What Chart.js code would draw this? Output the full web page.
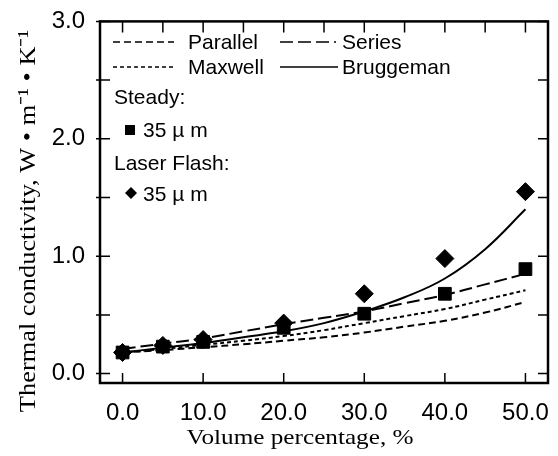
<!DOCTYPE html>
<html>
<head>
<meta charset="utf-8">
<script src="https://cdn.jsdelivr.net/npm/chart.js@4/dist/chart.umd.min.js"></script>
<style>
  html, body { margin: 0; padding: 0; background: #fff; }
  #wrap { width: 558px; height: 456px; }
</style>
</head>
<body>
<div id="wrap"><canvas id="c" width="558" height="456"></canvas></div>
<script>
// volume percentage for the model curves
const curveX = [0, 5, 10, 15, 20, 25, 30, 35, 40, 45, 50];
const seriesY = [0.21, 0.255, 0.30, 0.36, 0.42, 0.475, 0.53, 0.60, 0.67, 0.76, 0.85];
const maxwellY = [0.18, 0.21, 0.245, 0.28, 0.32, 0.37, 0.43, 0.49, 0.55, 0.63, 0.71];
const parallelY = [0.18, 0.20, 0.225, 0.25, 0.28, 0.31, 0.35, 0.40, 0.45, 0.52, 0.61];
const bruggemanY = [0.18, 0.22, 0.26, 0.31, 0.36, 0.43, 0.53, 0.65, 0.81, 1.06, 1.40];

// measured points
const measX = [0, 5, 10, 20, 30, 40, 50];
const steadyY = [0.18, 0.23, 0.27, 0.39, 0.51, 0.68, 0.89];
const flashY = [0.18, 0.24, 0.29, 0.43, 0.68, 0.98, 1.55];

const xTicks = [0, 10, 20, 30, 40, 50];
const yTicks = [0, 1, 2, 3];

function pts(xs, ys) {
  return xs.map((x, i) => ({x: x, y: ys[i]}));
}

const lineBase = {
  showLine: true,
  pointRadius: 0,
  borderColor: '#000',
  borderWidth: 2,
  fill: false,
  tension: 0.4
};

// box, inward ticks, axis titles and the in-plot legend
const decor = {
  id: 'decor',
  afterDraw(chart) {
    const ctx = chart.ctx;
    const a = chart.chartArea;
    const xs = chart.scales.x, ys = chart.scales.y;
    ctx.save();
    ctx.strokeStyle = '#000';
    ctx.fillStyle = '#000';
    ctx.setLineDash([]);
    ctx.lineWidth = 2.5;
    ctx.strokeRect(a.left, a.top, a.right - a.left, a.bottom - a.top);

    ctx.lineWidth = 1.5;
    ctx.beginPath();
    for (let v = 0; v <= 3.001; v += 0.5) {
      const y = ys.getPixelForValue(v);
      ctx.moveTo(a.left - 4, y); ctx.lineTo(a.left + 10, y);
      ctx.moveTo(a.right - 10, y); ctx.lineTo(a.right, y);
    }
    for (let v = 0; v <= 50; v += 10) {
      const x = xs.getPixelForValue(v);
      ctx.moveTo(x, a.bottom); ctx.lineTo(x, a.bottom - 10);
    }
    for (let v = 0; v <= 50; v += 5) {
      const x = xs.getPixelForValue(v);
      ctx.moveTo(x, a.top); ctx.lineTo(x, a.top + 11);
    }
    ctx.stroke();

    // axis titles
    ctx.textAlign = 'center';
    ctx.textBaseline = 'alphabetic';
    ctx.save();
    ctx.translate(300, 444);
    ctx.scale(1.2, 1);
    ctx.font = '21px "Liberation Serif", "Times New Roman", serif';
    ctx.fillText('Volume percentage, %', 0, 0);
    ctx.restore();

    ctx.save();
    ctx.translate(35, 221);
    ctx.rotate(-Math.PI / 2);
    ctx.scale(1.1, 1);
    ctx.font = '24px "Liberation Serif", "Times New Roman", serif';
    ctx.fillText('Thermal conductivity, W \u2022 m\u207B\u00B9 \u2022 K\u207B\u00B9', 0, 0);
    ctx.restore();

    // legend
    ctx.font = '21px "Liberation Sans", Arial, sans-serif';
    ctx.textAlign = 'left';
    ctx.lineWidth = 1.6;
    const samples = [
      {x0: 113, x1: 174, y: 42, dash: [7, 4], label: 'Parallel', tx: 188, ty: 49},
      {x0: 280, x1: 338, y: 42, dash: [13, 5, 13, 5, 13, 5, 2, 3], label: 'Series', tx: 342, ty: 49},
      {x0: 113, x1: 174, y: 67, dash: [4, 3], label: 'Maxwell', tx: 188, ty: 74},
      {x0: 280, x1: 338, y: 67, dash: [], label: 'Bruggeman', tx: 342, ty: 74}
    ];
    samples.forEach(s => {
      ctx.setLineDash(s.dash);
      ctx.beginPath();
      ctx.moveTo(s.x0, s.y); ctx.lineTo(s.x1, s.y);
      ctx.stroke();
      ctx.fillText(s.label, s.tx, s.ty);
    });
    ctx.setLineDash([]);
    ctx.fillText('Steady:', 114, 104);
    ctx.fillRect(125, 125, 10, 10);
    ctx.fillText('35 \u00B5 m', 143, 137);
    ctx.fillText('Laser Flash:', 114, 170);
    ctx.beginPath();
    ctx.moveTo(131, 187); ctx.lineTo(137, 193); ctx.lineTo(131, 199); ctx.lineTo(125, 193);
    ctx.closePath();
    ctx.fill();
    ctx.fillText('35 \u00B5 m', 143, 201);
    ctx.restore();
  }
};

new Chart(document.getElementById('c'), {
  type: 'scatter',
  data: {
    datasets: [
      Object.assign({}, lineBase, {label: 'Parallel', data: pts(curveX, parallelY), borderDash: [7, 4]}),
      Object.assign({}, lineBase, {label: 'Maxwell', data: pts(curveX, maxwellY), borderDash: [4, 3]}),
      Object.assign({}, lineBase, {label: 'Series', data: pts(curveX, seriesY), borderDash: [13, 5]}),
      Object.assign({}, lineBase, {label: 'Bruggeman', data: pts(curveX, bruggemanY)}),
      {
        label: 'Laser Flash 35 \u00B5m',
        data: pts(measX, flashY),
        pointStyle: 'rectRot',
        pointRadius: 9,
        backgroundColor: '#000',
        borderColor: '#000',
        borderWidth: 1
      },
      {
        label: 'Steady 35 \u00B5m',
        data: pts(measX, steadyY),
        pointStyle: 'rect',
        pointRadius: 9,
        backgroundColor: '#000',
        borderColor: '#000',
        borderWidth: 1
      }
    ]
  },
  options: {
    responsive: false,
    animation: false,
    devicePixelRatio: 1,
    layout: {padding: {top: 15, right: 5, left: 0, bottom: 0}},
    plugins: {legend: {display: false}, tooltip: {enabled: false}},
    scales: {
      x: {
        type: 'linear',
        min: -2.8,
        max: 52.8,
        afterBuildTicks: s => { s.ticks = xTicks.map(v => ({value: v})); },
        afterFit: s => { s.height = 73; },
        grid: {display: false},
        border: {display: false},
        ticks: {
          color: '#000',
          padding: 8,
          maxRotation: 0,
          font: {family: '"Liberation Sans", Arial, sans-serif', size: 24},
          callback: v => v.toFixed(1)
        }
      },
      y: {
        type: 'linear',
        min: -0.08,
        max: 3.0,
        afterBuildTicks: s => { s.ticks = yTicks.map(v => ({value: v})); },
        afterFit: s => { s.width = 100; },
        grid: {display: false},
        border: {display: false},
        ticks: {
          color: '#000',
          padding: 7,
          font: {family: '"Liberation Sans", Arial, sans-serif', size: 24},
          callback: v => v.toFixed(1)
        }
      }
    }
  },
  plugins: [decor]
});
</script>
</body>
</html>
